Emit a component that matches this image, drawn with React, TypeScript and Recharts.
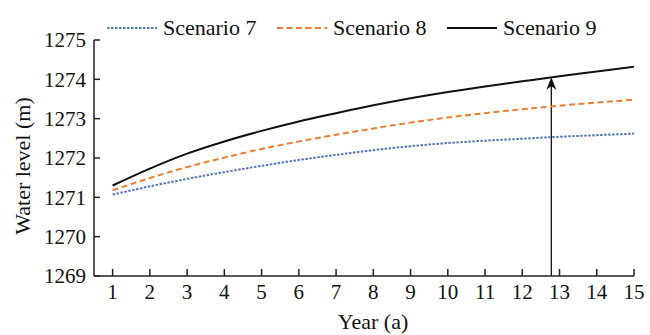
import React from 'react';
import {
  LineChart,
  Line,
  XAxis,
  YAxis,
  Legend,
  ReferenceLine,
  Label,
} from 'recharts';

const years = [1, 2, 3, 4, 5, 6, 7, 8, 9, 10, 11, 12, 13, 14, 15];
const scenario7 = [1271.07, 1271.28, 1271.47, 1271.64, 1271.8, 1271.95, 1272.08, 1272.2, 1272.3, 1272.38, 1272.44, 1272.49, 1272.54, 1272.58, 1272.62];
const scenario8 = [1271.18, 1271.49, 1271.77, 1272.01, 1272.23, 1272.42, 1272.59, 1272.75, 1272.9, 1273.03, 1273.14, 1273.24, 1273.33, 1273.41, 1273.48];
const scenario9 = [1271.3, 1271.73, 1272.11, 1272.42, 1272.69, 1272.93, 1273.14, 1273.34, 1273.52, 1273.68, 1273.82, 1273.95, 1274.08, 1274.2, 1274.32];
const yTicks = [1269, 1270, 1271, 1272, 1273, 1274, 1275];
const arrowYear = 12.78;
const arrowTop = 1274.06;

const data = years.map((y, i) => ({
  year: y,
  s7: scenario7[i],
  s8: scenario8[i],
  s9: scenario9[i],
}));

const FONT = 'Times New Roman, Tinos, Liberation Serif, Nimbus Roman, serif';
const tickStyle = { fill: '#111', fontSize: 21, fontFamily: FONT };

const legendItems = [
  { name: 'Scenario 7', color: '#5078c2', dash: '2.5 1.5' },
  { name: 'Scenario 8', color: '#ed7d31', dash: '6 3.5' },
  { name: 'Scenario 9', color: '#111', dash: undefined },
];

function LegendContent() {
  return (
    <div style={{ display: 'flex', alignItems: 'center', fontFamily: FONT, fontSize: 22, color: '#111' }}>
      {legendItems.map((it) => (
        <div key={it.name} style={{ display: 'flex', alignItems: 'center', width: 170 }}>
          <svg width={50} height={6} style={{ marginRight: 6 }}>
            <line x1={0} y1={3} x2={50} y2={3} stroke={it.color} strokeWidth={2} strokeDasharray={it.dash} />
          </svg>
          <span style={{ whiteSpace: 'nowrap' }}>{it.name}</span>
        </div>
      ))}
    </div>
  );
}

function Arrow(props: any) {
  const { x1, y1, y2 } = props;
  const top = Math.min(y1, y2);
  const bottom = Math.max(y1, y2);
  const x = x1;
  return (
    <g>
      <line x1={x} y1={bottom} x2={x} y2={top + 8} stroke="#111" strokeWidth={1.3} />
      <path d={`M${x},${top} L${x - 5},${top + 13} L${x},${top + 9} L${x + 5},${top + 13} Z`} fill="#111" />
    </g>
  );
}

export default function App() {
  return (
    <div style={{ position: 'absolute', left: 0, top: 0, width: 650, height: 335, background: '#fff', fontFamily: FONT }}>
      <LineChart width={650} height={335} data={data} margin={{ top: 14, right: 16, left: 0, bottom: 0 }}>
        <XAxis
          dataKey="year"
          type="number"
          domain={[0.5, 15]}
          ticks={years}
          allowDataOverflow
          height={59}
          tick={tickStyle}
          tickSize={-7}
          tickMargin={15}
          axisLine={{ stroke: '#222', strokeWidth: 1.5 }}
          tickLine={{ stroke: '#222', strokeWidth: 1.5 }}
        >
          <Label
            content={(p: any) => {
              const vb = p.viewBox;
              return (
                <text x={373} y={vb.y + 45} textAnchor="middle" dominantBaseline="central" fontFamily={FONT} fontSize={22} fill="#111">
                  Year (a)
                </text>
              );
            }}
          />
        </XAxis>
        <YAxis
          type="number"
          domain={[1269, 1275]}
          ticks={yTicks}
          width={94}
          tick={tickStyle}
          tickSize={-6}
          tickMargin={14}
          axisLine={{ stroke: '#222', strokeWidth: 1.5 }}
          tickLine={{ stroke: '#222', strokeWidth: 1.5 }}
        >
          <Label
            content={(p: any) => {
              const vb = p.viewBox;
              const cx = vb.x + 22;
              const cy = vb.y + vb.height / 2 + 8;
              return (
                <text x={cx} y={cy} transform={`rotate(-90 ${cx} ${cy})`} textAnchor="middle" dominantBaseline="central" fontFamily={FONT} fontSize={22} fill="#111">
                  Water level (m)
                </text>
              );
            }}
          />
        </YAxis>
        <Legend
          content={<LegendContent />}
          wrapperStyle={{ top: 15, left: 107, width: 540 }}
          verticalAlign="top"
        />
        <ReferenceLine
          segment={[
            { x: arrowYear, y: 1269 },
            { x: arrowYear, y: arrowTop },
          ]}
          shape={Arrow}
        />
        <Line type="monotone" dataKey="s7" name="Scenario 7" stroke="#5078c2" strokeWidth={2} strokeDasharray="2.5 1.5" dot={false} isAnimationActive={false} />
        <Line type="monotone" dataKey="s8" name="Scenario 8" stroke="#ed7d31" strokeWidth={2} strokeDasharray="6 3.5" dot={false} isAnimationActive={false} />
        <Line type="monotone" dataKey="s9" name="Scenario 9" stroke="#111" strokeWidth={2} dot={false} isAnimationActive={false} />
      </LineChart>
    </div>
  );
}
